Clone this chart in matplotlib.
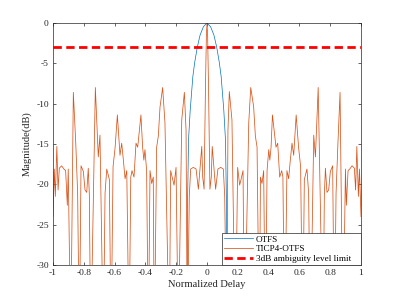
import numpy as np
import matplotlib
matplotlib.use("Agg")
import matplotlib.pyplot as plt

plt.rcParams['font.family'] = ['Liberation Serif', 'DejaVu Serif']
plt.rcParams['axes.unicode_minus'] = False

# OTFS main lobe
otfs_x = [-0.128, -0.126, -0.120, -0.109, -0.092, -0.080, -0.063, -0.045, -0.023, 0.0,
          0.023, 0.045, 0.063, 0.080, 0.092, 0.109, 0.120, 0.126, 0.128]
otfs_y = [-40.0, -22.0, -14.5, -10.8, -6.65, -4.9, -3.0, -1.5, -0.45, 0.0,
          -0.45, -1.5, -3.0, -4.9, -6.65, -10.8, -14.5, -22.0, -40.0]

# TICP4-OTFS
ticp_x = [-1.000, -0.992, -0.985, -0.975, -0.967, -0.959, -0.944, -0.929, -0.918, -0.907,
          -0.901, -0.885, -0.868, -0.852, -0.840, -0.829, -0.818, -0.803, -0.792, -0.781,
          -0.771, -0.764, -0.755, -0.725, -0.706, -0.695, -0.673, -0.662, -0.651, -0.634,
          -0.623, -0.610, -0.597, -0.582, -0.565, -0.554, -0.543, -0.532, -0.521, -0.506,
          -0.495, -0.487, -0.474, -0.461, -0.450, -0.429, -0.418, -0.410, -0.403, -0.392,
          -0.381, -0.370, -0.359, -0.349, -0.342, -0.327, -0.316, -0.305, -0.288, -0.273,
          -0.245, -0.236, -0.223, -0.214, -0.201, -0.186, -0.164, -0.147, -0.136, -0.128,
          -0.115, -0.106, -0.089, -0.071, -0.063, -0.056, -0.045, -0.034, -0.028, -0.019,
          -0.010, -0.004, 0.000,
          0.004, 0.010, 0.019, 0.028, 0.034, 0.045, 0.056, 0.063, 0.071, 0.089,
          0.106, 0.115, 0.128, 0.136, 0.145, 0.162, 0.184, 0.199, 0.212, 0.221,
          0.234, 0.243, 0.271, 0.284, 0.303, 0.314, 0.325, 0.340, 0.347, 0.357,
          0.368, 0.379, 0.390, 0.401, 0.408, 0.416, 0.425, 0.448, 0.459, 0.472,
          0.485, 0.493, 0.504, 0.519, 0.530, 0.541, 0.552, 0.563, 0.579, 0.595,
          0.608, 0.621, 0.632, 0.649, 0.660, 0.671, 0.693, 0.704, 0.722, 0.753,
          0.762, 0.769, 0.779, 0.790, 0.801, 0.816, 0.827, 0.838, 0.850, 0.864,
          0.883, 0.899, 0.905, 0.916, 0.927, 0.942, 0.957, 0.965, 0.973, 0.983,
          0.990, 1.000]
ticp_y = [-24.0, -18.1, -21.5, -15.3, -20.7, -18.0, -17.7, -18.1, -18.3, -22.6,
          -18.1, -40.0, -8.6, -15.0, -21.1, -40.0, -17.7, -18.4, -20.7, -21.0,
          -18.0, -21.3, -40.0, -8.0, -16.6, -13.9, -40.0, -21.1, -18.1, -19.4,
          -40.0, -17.8, -15.5, -11.4, -16.4, -14.9, -17.0, -19.3, -18.3, -40.0,
          -19.1, -18.3, -19.1, -14.9, -15.4, -11.4, -15.4, -17.0, -15.7, -18.3,
          -40.0, -18.3, -19.9, -19.1, -40.0, -15.4, -14.0, -10.4, -8.0, -12.4,
          -40.0, -18.3, -19.4, -20.1, -17.9, -40.0, -12.0, -8.6, -13.3, -40.0,
          -21.5, -18.1, -17.9, -18.1, -19.4, -20.6, -17.9, -15.3, -19.1, -20.6,
          -8.0, -1.5, 0.0,
          -1.5, -8.0, -20.6, -19.1, -15.3, -17.9, -20.6, -19.4, -18.1, -17.9,
          -18.1, -21.5, -40.0, -13.3, -8.5, -12.0, -40.0, -17.9, -20.1, -19.4,
          -18.3, -40.0, -12.4, -8.0, -10.4, -14.0, -15.4, -40.0, -19.1, -19.9,
          -18.3, -40.0, -18.3, -15.7, -17.0, -15.4, -11.4, -15.4, -14.9, -19.1,
          -18.3, -19.1, -40.0, -18.3, -19.3, -17.0, -14.9, -16.4, -11.4, -15.5,
          -17.8, -40.0, -19.4, -18.1, -21.1, -40.0, -13.9, -16.6, -8.0, -40.0,
          -21.3, -18.0, -21.0, -20.7, -18.4, -17.7, -40.0, -21.1, -15.0, -8.6,
          -40.0, -18.1, -22.6, -18.3, -18.1, -17.7, -18.0, -20.7, -15.3, -21.5,
          -18.1, -24.0]

limit_db = -3
xticks = [-1, -0.8, -0.6, -0.4, -0.2, 0, 0.2, 0.4, 0.6, 0.8, 1]
xticklabels = ['-1', '-0.8', '-0.6', '-0.4', '-0.2', '0', '0.2', '0.4', '0.6', '0.8', '1']
yticks = [-30, -25, -20, -15, -10, -5, 0]
yticklabels = ['-30', '-25', '-20', '-15', '-10', '-5', '0']

fig = plt.figure(figsize=(3.99, 2.99), dpi=100)
ax = fig.add_axes([53 / 399, 1 - 265 / 299, 308 / 399, 242 / 299])

ax.plot(otfs_x, otfs_y, color='#0072BD', lw=0.5, label='OTFS')
ax.plot(ticp_x, ticp_y, color='#D95319', lw=0.55, label='TICP4-OTFS')
ax.plot([-1, 1], [limit_db, limit_db], color='red', lw=2, dashes=(3, 1.6),
        label='3dB ambiguity level limit')

ax.set_xlim(-1, 1)
ax.set_ylim(-30, 0)
ax.set_xticks(xticks)
ax.set_xticklabels(xticklabels)
ax.set_yticks(yticks)
ax.set_yticklabels(yticklabels)
ax.tick_params(direction='in', top=True, right=True, length=2.5, width=0.5,
               labelsize=6.8, colors='#262626', pad=3)
for s in ax.spines.values():
    s.set_color('#262626')
    s.set_linewidth(0.5)

ax.set_xlabel('Normalized Delay', fontsize=7.6, color='#262626', labelpad=2)
ax.set_ylabel('Magnitude(dB)', fontsize=7.6, color='#262626', labelpad=3)

x0 = (221.7 - 53) / 308
leg = ax.legend(loc='lower left', bbox_to_anchor=(x0, 0, 1 - x0, 0.15), mode='expand',
                borderaxespad=0, fontsize=6.6, handlelength=3.2, handletextpad=0.3,
                labelspacing=0.15, borderpad=0.2, fancybox=False, framealpha=1)
leg.get_frame().set_edgecolor('#262626')
leg.get_frame().set_linewidth(0.5)

fig.savefig('out.png', dpi=100)
